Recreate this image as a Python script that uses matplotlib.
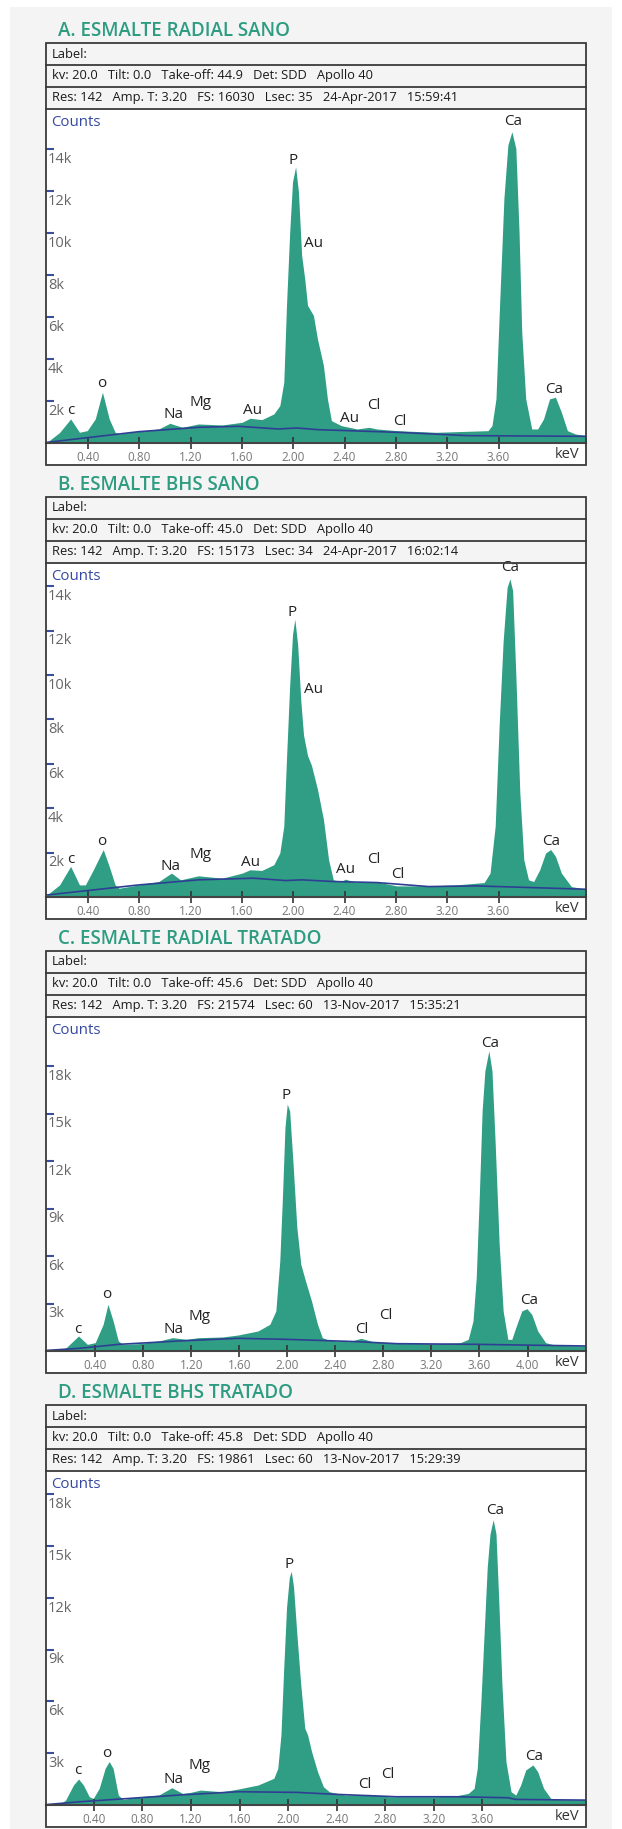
import matplotlib
matplotlib.use("Agg")
import matplotlib.pyplot as plt
from matplotlib.patches import Rectangle
from matplotlib.lines import Line2D

plt.rcParams['font.family'] = ['Open Sans', 'DejaVu Sans']

# ---- data ----------------------------------------------------------------
titles = ["A. ESMALTE RADIAL SANO", "B. ESMALTE BHS SANO",
          "C. ESMALTE RADIAL TRATADO", "D. ESMALTE BHS TRATADO"]

kv_rows = [
    ["kv: 20.0", "Tilt: 0.0", "Take-off: 44.9", "Det: SDD", "Apollo 40"],
    ["kv: 20.0", "Tilt: 0.0", "Take-off: 45.0", "Det: SDD", "Apollo 40"],
    ["kv: 20.0", "Tilt: 0.0", "Take-off: 45.6", "Det: SDD", "Apollo 40"],
    ["kv: 20.0", "Tilt: 0.0", "Take-off: 45.8", "Det: SDD", "Apollo 40"],
]
res_rows = [
    ["Res: 142", "Amp. T: 3.20", "FS: 16030", "Lsec: 35", "24-Apr-2017", "15:59:41"],
    ["Res: 142", "Amp. T: 3.20", "FS: 15173", "Lsec: 34", "24-Apr-2017", "16:02:14"],
    ["Res: 142", "Amp. T: 3.20", "FS: 21574", "Lsec: 60", "13-Nov-2017", "15:35:21"],
    ["Res: 142", "Amp. T: 3.20", "FS: 19861", "Lsec: 60", "13-Nov-2017", "15:29:39"],
]

x_limits = [(0.072, 4.282), (0.072, 4.282), (-0.01, 4.487), (0.007, 4.452)]
y_max = [15900, 15050, 21100, 19350]
y_ticks = [[2000, 4000, 6000, 8000, 10000, 12000, 14000],
           [2000, 4000, 6000, 8000, 10000, 12000, 14000],
           [3000, 6000, 9000, 12000, 15000, 18000],
           [3000, 6000, 9000, 12000, 15000, 18000]]
x_ticks = [[0.4, 0.8, 1.2, 1.6, 2.0, 2.4, 2.8, 3.2, 3.6],
           [0.4, 0.8, 1.2, 1.6, 2.0, 2.4, 2.8, 3.2, 3.6],
           [0.4, 0.8, 1.2, 1.6, 2.0, 2.4, 2.8, 3.2, 3.6, 4.0],
           [0.4, 0.8, 1.2, 1.6, 2.0, 2.4, 2.8, 3.2, 3.6]]

# spectra: energy (keV) and counts
energy_a = [0.079, 0.178, 0.264, 0.333, 0.394, 0.456, 0.512, 0.565, 0.611, 0.642,
            0.797, 0.951, 1.038, 1.135, 1.260, 1.446, 1.601, 1.663, 1.755, 1.848,
            1.895, 1.926, 1.947, 1.972, 1.994, 2.018, 2.040, 2.065, 2.089, 2.111,
            2.157, 2.188, 2.235, 2.266, 2.297, 2.374, 2.498, 2.590, 2.652, 2.807,
            3.116, 3.271, 3.518, 3.549, 3.580, 3.605, 3.642, 3.673, 3.704, 3.735,
            3.760, 3.781, 3.812, 3.859, 3.905, 3.951, 3.998, 4.044, 4.090, 4.137,
            4.199, 4.286]
counts_a = [30, 500, 1145, 510, 590, 1145, 2417, 1145, 510, 430,
            556, 668, 938, 747, 906, 858, 986, 1177, 1113, 1383,
            1780, 2894, 6551, 10049, 12434, 13149, 11957, 8936, 7823, 6551,
            6074, 4961, 3689, 2099, 1065, 827, 668, 747, 668, 588,
            509, 540, 588, 827, 2099, 6074, 11639, 14183, 14819, 14024,
            10049, 5279, 2099, 668, 668, 1145, 2099, 2178, 1463, 588,
            430, 350]
energy_b = [0.079, 0.178, 0.264, 0.333, 0.379, 0.441, 0.518, 0.565, 0.611, 0.642,
            0.797, 0.951, 1.050, 1.121, 1.260, 1.446, 1.601, 1.663, 1.755, 1.848,
            1.895, 1.926, 1.947, 1.972, 1.994, 2.012, 2.034, 2.059, 2.080, 2.111,
            2.142, 2.188, 2.235, 2.275, 2.312, 2.374, 2.405, 2.498, 2.637, 2.807,
            3.054, 3.271, 3.488, 3.534, 3.574, 3.605, 3.636, 3.667, 3.689, 3.710,
            3.735, 3.766, 3.797, 3.834, 3.874, 3.921, 3.967, 4.007, 4.044, 4.090,
            4.168, 4.286]
counts_b = [90, 545, 1379, 545, 545, 1227, 2136, 1379, 545, 394,
            545, 697, 1076, 773, 955, 848, 1076, 1227, 1197, 1454,
            1985, 3197, 6227, 9560, 11832, 12514, 11378, 8802, 7287, 6378,
            5924, 4863, 3500, 1682, 773, 697, 803, 651, 697, 500,
            500, 545, 651, 1076, 3197, 7742, 11529, 13953, 14332, 13802,
            10014, 4712, 1682, 773, 697, 1227, 1985, 2136, 1833, 1076,
            470, 348]
energy_c = [0.003, 0.152, 0.261, 0.334, 0.400, 0.466, 0.506, 0.549, 0.592, 0.631,
            0.763, 0.929, 1.044, 1.160, 1.259, 1.457, 1.590, 1.755, 1.854, 1.904,
            1.937, 1.960, 1.980, 1.999, 2.019, 2.046, 2.079, 2.112, 2.151, 2.201,
            2.251, 2.291, 2.351, 2.515, 2.614, 2.713, 2.911, 3.242, 3.440, 3.506,
            3.546, 3.573, 3.599, 3.622, 3.645, 3.678, 3.704, 3.731, 3.764, 3.797,
            3.836, 3.869, 3.902, 3.952, 3.995, 4.035, 4.085, 4.151, 4.234, 4.488]
counts_c = [40, 170, 948, 421, 527, 1686, 2950, 1896, 632, 421,
            463, 632, 843, 737, 843, 885, 1011, 1264, 1686, 2528,
            5689, 9903, 14117, 15592, 15170, 12010, 7796, 5478, 4425, 3161,
            1686, 843, 674, 590, 801, 590, 485, 463, 527, 737,
            1896, 4635, 9903, 15170, 17699, 18963, 17699, 13063, 6742, 2528,
            737, 737, 1475, 2528, 2676, 2318, 1264, 527, 358, 316]
energy_d = [0.021, 0.119, 0.168, 0.233, 0.275, 0.315, 0.363, 0.396, 0.445, 0.494,
            0.527, 0.559, 0.602, 0.641, 0.772, 0.935, 1.043, 1.131, 1.196, 1.278,
            1.458, 1.589, 1.752, 1.882, 1.915, 1.941, 1.964, 1.987, 2.010, 2.026,
            2.045, 2.072, 2.104, 2.137, 2.160, 2.193, 2.242, 2.290, 2.339, 2.470,
            2.666, 2.829, 3.221, 3.384, 3.483, 3.531, 3.557, 3.587, 3.613, 3.639,
            3.662, 3.688, 3.711, 3.734, 3.760, 3.793, 3.835, 3.874, 3.914, 3.956,
            4.015, 4.054, 4.103, 4.168, 4.456]
counts_d = [30, 30, 283, 1157, 1506, 1157, 478, 380, 963, 2127,
            2515, 2127, 575, 322, 478, 575, 1002, 672, 730, 866,
            769, 924, 1157, 1545, 2127, 4068, 7950, 11444, 13191, 13540,
            12608, 9891, 6980, 4456, 4068, 3098, 1933, 1060, 769, 575,
            614, 478, 478, 536, 672, 963, 2127, 6009, 9891, 13773,
            15714, 16529, 15714, 11832, 6980, 2515, 769, 575, 1157, 2030,
            2321, 1933, 963, 322, 283]

# fitted background (blue line)
bg_energy_a = [0.079, 0.797, 1.26, 1.57, 1.88, 2.03, 2.19, 2.81, 3.36, 4.286]
bg_counts_a = [30, 540, 747, 795, 668, 715, 636, 509, 350, 318]
bg_energy_b = [0.079, 0.487, 0.797, 1.26, 1.69, 1.94, 2.065, 2.312, 2.652, 3.054, 3.426, 4.286]
bg_counts_b = [90, 348, 545, 773, 848, 742, 773, 697, 651, 470, 500, 348]
bg_energy_c = [0.003, 0.268, 0.598, 1.094, 1.59, 1.986, 2.251, 2.581, 2.911, 3.573, 4.488]
bg_counts_c = [40, 170, 421, 632, 801, 737, 674, 590, 463, 421, 316]
bg_energy_d = [0.021, 0.282, 0.609, 1.098, 1.588, 2.078, 2.405, 2.894, 3.384, 3.809, 3.874, 4.456]
bg_counts_d = [30, 186, 341, 575, 769, 730, 614, 478, 478, 420, 322, 283]

# peak labels: (element, keV, counts)
labels_a = [("c", 0.265, 1542), ("o", 0.51, 2814), ("Na", 1.065, 1336), ("Mg", 1.28, 1908),
            ("Au", 1.68, 1542), ("P", 2.0, 13467), ("Au", 2.157, 9492), ("Au", 2.436, 1177),
            ("Cl", 2.63, 1780), ("Cl", 2.832, 1018), ("Ca", 3.713, 15328), ("Ca", 4.03, 2544)]
labels_b = [("c", 0.262, 1682), ("o", 0.506, 2515), ("Na", 1.044, 1379), ("Mg", 1.276, 1909),
            ("Au", 1.663, 1576), ("P", 1.987, 12817), ("Au", 2.157, 9363), ("Au", 2.41, 1227),
            ("Cl", 2.63, 1682), ("Cl", 2.816, 1000), ("Ca", 3.689, 14850), ("Ca", 4.007, 2515)]
labels_c = [("c", 0.251, 1370), ("o", 0.499, 3582), ("Na", 1.051, 1370), ("Mg", 1.269, 2149),
            ("P", 1.993, 16118), ("Cl", 2.624, 1370), ("Cl", 2.822, 2254),
            ("Ca", 3.691, 19448), ("Ca", 4.012, 3203)]
labels_d = [("c", 0.269, 1976), ("o", 0.511, 2966), ("Na", 1.056, 1452), ("Mg", 1.271, 2286),
            ("P", 2.006, 13928), ("Cl", 2.633, 1161), ("Cl", 2.823, 1743),
            ("Ca", 3.705, 17034), ("Ca", 4.021, 2807)]

spectra = [(energy_a, counts_a), (energy_b, counts_b), (energy_c, counts_c), (energy_d, counts_d)]
backgrounds = [(bg_energy_a, bg_counts_a), (bg_energy_b, bg_counts_b),
               (bg_energy_c, bg_counts_c), (bg_energy_d, bg_counts_d)]
peak_labels = [labels_a, labels_b, labels_c, labels_d]

# ---- layout (pixels) ------------------------------------------------------
W, H = 622, 1829
BOX_L, BOX_R = 46, 586
PERIOD, BOX_H = 454, 422
TEAL = "#2f9e84"
BLUE = "#2e3f93"
EDGE = "#3a3a3a"


def fx(x):
    return x / W


def fy(y):
    return 1 - y / H


fig = plt.figure(figsize=(W / 100, H / 100), dpi=100)
fig.patches.append(Rectangle((fx(10), 0), fx(602), fy(7), transform=fig.transFigure,
                             facecolor="#f4f4f4", edgecolor="none", zorder=-3))

for i in range(4):
    top = 43 + PERIOD * i

    # title
    fig.text(fx(58), fy(top - 12), titles[i], fontsize=13.5, color="#2e9c81",
             fontweight="semibold", ha="left", va="center")

    # white plot area, then box and row lines
    fig.patches.append(Rectangle((fx(BOX_L), fy(top + BOX_H)), fx(BOX_R - BOX_L),
                                 (BOX_H - 66) / H, transform=fig.transFigure,
                                 facecolor="white", edgecolor="none", zorder=-2))
    fig.patches.append(Rectangle((fx(BOX_L), fy(top + BOX_H)), fx(BOX_R - BOX_L),
                                 BOX_H / H, transform=fig.transFigure,
                                 facecolor="none", edgecolor=EDGE, lw=1.3, zorder=5))
    for dy in (22, 44, 66):
        fig.add_artist(Line2D([fx(BOX_L), fx(BOX_R)], [fy(top + dy)] * 2,
                              color=EDGE, lw=1.3, zorder=5))

    # header rows
    fig.text(fx(52), fy(top + 11), "Label:", fontsize=9.3, color="#1a1a1a", va="center")
    fig.text(fx(52), fy(top + 33), "   ".join(kv_rows[i]), fontsize=9.3, color="#1a1a1a", va="center")
    fig.text(fx(52), fy(top + 55), "   ".join(res_rows[i]), fontsize=9.3, color="#1a1a1a", va="center")

    # spectrum axes
    ax = fig.add_axes([fx(BOX_L), fy(top + 400), fx(BOX_R - BOX_L), 334 / H])
    ax.set_facecolor("none")
    e, c = spectra[i]
    ax.fill_between(e, c, 0, color=TEAL, lw=0)
    be, bc = backgrounds[i]
    ax.plot(be, bc, color=BLUE, lw=1.2)

    for name, xe, yc in peak_labels[i]:
        ax.text(xe, yc, name, fontsize=11, color="#222", ha="center", va="center")

    ax.set_xlim(*x_limits[i])
    ax.set_ylim(0, y_max[i])
    for side in ("top", "right", "left"):
        ax.spines[side].set_visible(False)
    ax.spines["bottom"].set_color("#444")
    ax.spines["bottom"].set_linewidth(1.5)

    ax.set_xticks(x_ticks[i])
    ax.set_xticklabels([f"{t:.2f}" for t in x_ticks[i]])
    ax.tick_params(axis="x", direction="inout", length=8, width=1.2, color="#333",
                   labelsize=8.5, labelcolor="#777", pad=2)
    ax.set_yticks(y_ticks[i])
    ax.tick_params(axis="y", direction="in", length=6, width=1.5, color="#3b4fa0",
                   labelleft=False)
    for t in y_ticks[i]:
        ax.annotate(f"{t // 1000}k", xy=(0, t), xycoords=("axes fraction", "data"),
                    xytext=(1.5, -2), textcoords="offset points", ha="left", va="top",
                    fontsize=10.5, color="#666")

    ax.annotate("Counts", xy=(0, 1), xycoords="axes fraction", xytext=(3.6, -9.4),
                textcoords="offset points", ha="left", va="center", fontsize=10.8,
                color="#3448a0")
    ax.annotate("keV", xy=(1, 0), xycoords="axes fraction", xytext=(-13.7, -8.6),
                textcoords="offset points", ha="center", va="center", fontsize=10.5,
                color="#333")

fig.savefig("out.png", dpi=100)
